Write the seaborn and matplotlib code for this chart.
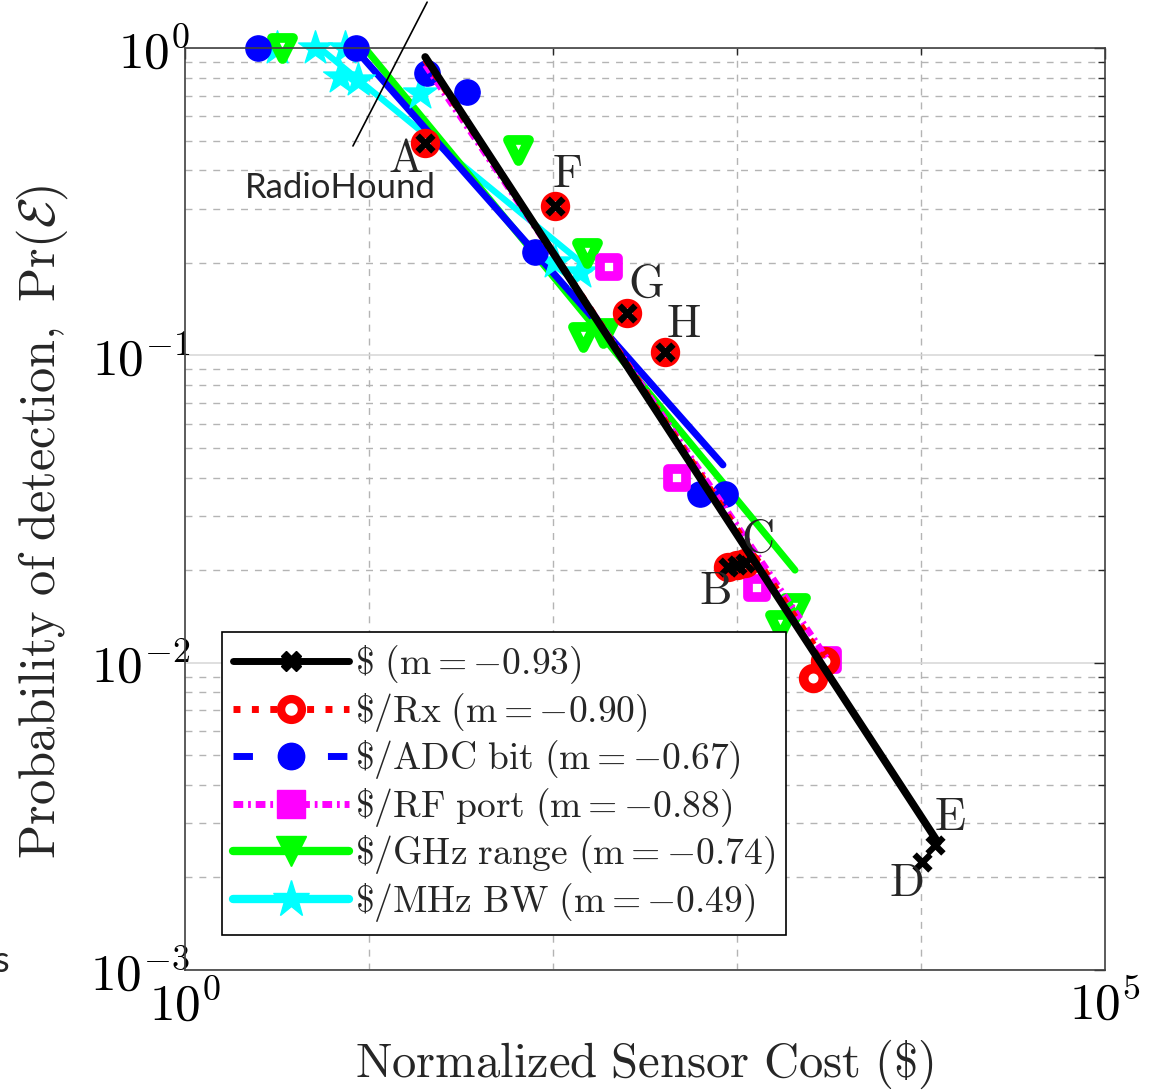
import numpy as np
import pandas as pd
import matplotlib
matplotlib.use("Agg")
import matplotlib.pyplot as plt
import seaborn as sns
from matplotlib.lines import Line2D
from matplotlib.ticker import FixedLocator, LogLocator, NullFormatter, LogFormatterMathtext

# ---- data ----
# $ (total cost)
cost_x = [20.2, 102.5, 253, 406, 894, 1000, 1105, 10120, 11910]
cost_y = [0.491, 0.306, 0.1375, 0.1026, 0.0205, 0.0208, 0.0211, 0.00225, 0.00256]
cost_fit_x = [20.2, 12370]
cost_fit_y = [0.935, 0.0026]

# $/Rx
rx_x = [20.2, 102.5, 253, 406, 894, 1000, 1105, 2588, 3008]
rx_y = [0.491, 0.306, 0.1375, 0.1026, 0.0205, 0.0208, 0.0211, 0.00893, 0.01016]
rx_fit_x = [20.2, 3008]
rx_fit_y = [0.914, 0.0101]

# $/ADC bit
adc_x = [2.49, 8.50, 20.7, 34.1, 79.8, 630, 861]
adc_y = [1.0, 1.0, 0.829, 0.719, 0.217, 0.0353, 0.0355]
adc_fit_x = [8.5, 839]
adc_fit_y = [0.985, 0.044]

# $/RF port
rf_x = [202, 472, 1285, 3124]
rf_y = [0.194, 0.040, 0.0175, 0.0102]
rf_fit_x = [20.2, 3124]
rf_fit_y = [0.88, 0.01023]

# $/GHz range
ghz_x = [3.37, 64.5, 153, 146, 187, 2066, 1713]
ghz_y = [1.0, 0.466, 0.216, 0.115, 0.118, 0.0151, 0.0133]
ghz_fit_x = [9.51, 2066]
ghz_fit_y = [1.0, 0.02]

# $/MHz BW
mhz_x = [3.16, 5.09, 7.41, 6.96, 8.73, 18.9, 102.5, 140]
mhz_y = [1.0, 1.0, 1.0, 0.805, 0.787, 0.714, 0.201, 0.187]
mhz_fit_x = [3.16, 159]
mhz_fit_y = [1.30, 0.19]

legend_labels = [r'$\$\ (\mathrm{m}{=}{-}0.93)$',
                 r'$\$/\mathrm{Rx}\ (\mathrm{m}{=}{-}0.90)$',
                 r'$\$/\mathrm{ADC\ bit}\ (\mathrm{m}{=}{-}0.67)$',
                 r'$\$/\mathrm{RF\ port}\ (\mathrm{m}{=}{-}0.88)$',
                 r'$\$/\mathrm{GHz\ range}\ (\mathrm{m}{=}{-}0.74)$',
                 r'$\$/\mathrm{MHz\ BW}\ (\mathrm{m}{=}{-}0.49)$']

point_letters = ['A', 'F', 'G', 'H', 'B', 'C', 'D', 'E']
letter_x = [15.7, 119, 320, 509, 759, 1285, 8285, 14380]
letter_y = [0.432, 0.386, 0.1695, 0.1257, 0.0169, 0.0251, 0.0019, 0.00313]

radiohound_x = [8.18, 20.7]
radiohound_y = [0.48, 1.41]

sns.set_style("white")
plt.rcParams['mathtext.fontset'] = 'cm'
plt.rcParams['font.family'] = ['cmr10', 'DejaVu Serif']
plt.rcParams['axes.formatter.use_mathtext'] = True

fig = plt.figure(figsize=(11.58, 10.92), dpi=100)
ax = fig.add_axes([185/1158, 1 - 970/1092, 920/1158, 922/1092])
ax.set_xscale('log')
ax.set_yscale('log')

rf_dash = (0, (1.4, 0.7, 0.4, 0.7))

# fit lines
sns.lineplot(x=mhz_fit_x, y=mhz_fit_y, color='cyan', lw=4.5, ax=ax, zorder=2)
sns.lineplot(x=ghz_fit_x, y=ghz_fit_y, color='#00ff00', lw=5, ax=ax, zorder=2.1)
sns.lineplot(x=adc_fit_x, y=adc_fit_y, color='blue', lw=5, ax=ax, zorder=2.2)
sns.lineplot(x=rf_fit_x, y=rf_fit_y, color='magenta', lw=4.5, ls=rf_dash, ax=ax, zorder=3.4)
sns.lineplot(x=rx_fit_x, y=rx_fit_y, color='red', lw=4.5, ls=':', ax=ax, zorder=3.5)
sns.lineplot(x=cost_fit_x, y=cost_fit_y, color='black', lw=5.5, ax=ax, zorder=4)

# data markers
sns.scatterplot(x=mhz_x, y=mhz_y, marker='*', s=650, color='cyan', edgecolor='cyan', linewidth=1, ax=ax, zorder=2.3)
sns.scatterplot(x=ghz_x, y=ghz_y, marker='v', s=230, facecolor='white', edgecolor='#00ff00', linewidth=7, ax=ax, zorder=2.4)
sns.scatterplot(x=adc_x, y=adc_y, marker='o', s=330, color='blue', edgecolor='blue', linewidth=1, ax=ax, zorder=2.5)
sns.scatterplot(x=rf_x, y=rf_y, marker='s', s=170, facecolor='white', edgecolor='magenta', linewidth=7, ax=ax, zorder=3)
sns.scatterplot(x=rx_x, y=rx_y, marker='o', s=200, facecolor='white', edgecolor='red', linewidth=7, ax=ax, zorder=3.2)
sns.scatterplot(x=cost_x, y=cost_y, marker='x', s=130, color='black', linewidth=4.5, ax=ax, zorder=5)
for c in ax.collections:
    c.set_clip_on(False)

for lab, lx, ly in zip(point_letters, letter_x, letter_y):
    ax.text(lx, ly, r'$\mathrm{%s}$' % lab, fontsize=33, ha='center', va='center', zorder=6)

ax.plot(radiohound_x, radiohound_y, color='black', lw=1.2, clip_on=False, zorder=6)
ax.text(6.95, 0.35, 'RadioHound', family='Lato', fontsize=25, ha='center', va='center', zorder=6)
fig.text(-0.005, 1 - 961/1092, 's', family='Lato', fontsize=26, ha='left', va='center')

ax.set_xlim(1, 1e5)
ax.set_ylim(1e-3, 1)
ax.xaxis.set_major_locator(FixedLocator([1, 1e5]))
ax.xaxis.set_minor_locator(FixedLocator([10, 100, 1000, 10000]))
ax.xaxis.set_major_formatter(LogFormatterMathtext())
ax.xaxis.set_minor_formatter(NullFormatter())
ax.yaxis.set_major_locator(LogLocator(base=10, numticks=10))
ax.yaxis.set_minor_locator(LogLocator(base=10, subs=np.arange(2, 10), numticks=20))
ax.yaxis.set_major_formatter(LogFormatterMathtext())
ax.yaxis.set_minor_formatter(NullFormatter())

ax.grid(which='major', axis='y', color='#d6d6d6', lw=1.1, ls='-')
ax.grid(which='minor', axis='both', color='#b4b4b4', lw=1.0, ls=(0, (5, 5)))
ax.set_axisbelow(True)
ax.tick_params(which='both', direction='in', top=True, right=True, colors='#262626',
               labelcolor='black', labelsize=37)
ax.tick_params(axis='x', which='major', pad=7)
ax.tick_params(axis='y', which='major', pad=-4)
ax.tick_params(which='major', length=8, width=1)
ax.tick_params(which='minor', length=5, width=1)
for sp in ax.spines.values():
    sp.set_color('#404040')
    sp.set_linewidth(1.2)

ax.set_xlabel(r'$\mathrm{Normalized\ Sensor\ Cost\ (\$)}$', fontsize=35)
ax.set_ylabel(r'$\mathrm{Probability\ of\ detection,\ Pr}(\mathcal{E})$', fontsize=36.3)
ax.xaxis.set_label_coords(0.5, -0.073)
ax.yaxis.set_label_coords(-0.125, 0.486)

handles = [
    Line2D([], [], color='black', lw=5, marker='X', ms=14, mfc='black', mec='black'),
    Line2D([], [], color='red', lw=5, ls=':', marker='o', ms=15, mfc='white', mec='red', mew=6),
    Line2D([], [], color='blue', lw=5, ls=(0, (2.8, 4.0)), marker='o', ms=19, mfc='blue', mec='blue'),
    Line2D([], [], color='magenta', lw=5, ls=rf_dash, marker='s', ms=20, mfc='magenta', mec='magenta'),
    Line2D([], [], color='#00ff00', lw=6, marker='v', ms=22, mfc='#00ff00', mec='#00ff00'),
    Line2D([], [], color='cyan', lw=6, marker='*', ms=28, mfc='cyan', mec='cyan'),
]
leg = ax.legend(handles, legend_labels, loc='lower left', bbox_to_anchor=(0.04, 0.038),
                borderaxespad=0, fontsize=27, handlelength=3.1, handletextpad=0.15,
                labelspacing=0.12, borderpad=0.3, frameon=True, fancybox=False,
                framealpha=1, edgecolor='black')
leg.get_frame().set_linewidth(1.2)
leg.set_zorder(10)

fig.savefig('out.png', dpi=100)
